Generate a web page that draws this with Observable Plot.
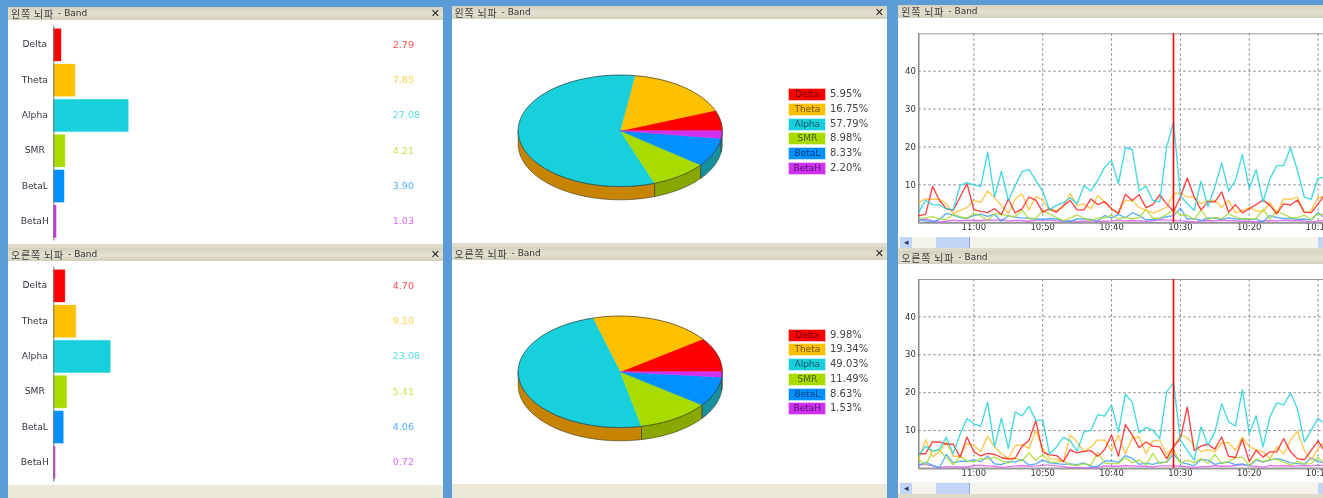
<!DOCTYPE html>
<html><head><meta charset="utf-8">
<script src="https://cdn.jsdelivr.net/npm/d3@7"></script>
<script src="https://cdn.jsdelivr.net/npm/@observablehq/plot@0.6"></script>
<style>
html,body{margin:0;padding:0;width:1323px;height:498px;overflow:hidden;background:#5b9bd7}
#root{position:relative;width:1323px;height:498px;overflow:hidden;background:#5b9bd7;filter:blur(0.4px);font-family:"DejaVu Sans",sans-serif}
.body{position:absolute;background:#fff}
.bar{position:absolute;height:13px;background:linear-gradient(#d4d1bf,#e4e1d0 55%,#d2cfbd);color:#333;font-size:9px;white-space:nowrap;display:flex;align-items:center;padding-left:3px;box-sizing:border-box}
.bar b{font:400 10px/13px "Noto Sans CJK KR";letter-spacing:.8px;margin-right:4px;color:#3a3a3a}
.bar span{line-height:13px}
.bar i{position:absolute;right:3px;top:0;font:700 11px/13px "DejaVu Sans";font-style:normal;color:#222}
.sw{position:absolute;width:36px;height:11px;border:.5px solid rgba(255,255,255,.7);text-align:center;font-size:9px;line-height:11px;color:rgba(0,0,30,.6)}
.pc{position:absolute;font-size:10px;line-height:12px;color:#444}
.sb{position:absolute;height:11px;background:#f5f4ec}
.sb u{position:absolute;top:0;height:11px;background:#c3d4f6;border-right:1px solid #8fa8d8}
.sb em{position:absolute;top:0;left:2px;width:12px;height:11px;background:#c3d4f6;color:#1d3a78;font:700 9px/11px "DejaVu Sans";text-align:center}
</style></head><body><div id="root"></div>
<script>
const bands = ["Delta","Theta","Alpha","SMR","BetaL","BetaH"];
const bandColors = ["#ff0000","#ffc000","#18d0dc","#a8dc00","#0090ff","#d030f0"];
const lineColors = ["#ff2020","#ffbe30","#22d2de","#a8dc30","#3fa0ff","#dc60f0"];
const wallColors = ["#b00000","#c68400","#c68400","#88a800","#16909f","#16909f"];

const leftBand = [2.79,7.85,27.08,4.21,3.90,1.03];
const rightBand = [4.70,9.10,23.08,5.41,4.06,0.72];
const leftBandText = ["2.79","7.85","27.08","4.21","3.90","1.03"];
const rightBandText = ["4.70","9.10","23.08","5.41","4.06","0.72"];
const leftPct = [5.95,16.75,57.79,8.98,8.33,2.20];
const rightPct = [9.98,19.34,49.03,11.49,8.63,1.53];
const leftPctText = ["5.95%","16.75%","57.79%","8.98%","8.33%","2.20%"];
const rightPctText = ["9.98%","19.34%","49.03%","11.49%","8.63%","1.53%"];
const titleLeft = "왼쪽 뇌파", titleRight = "오른쪽 뇌파", titleTail = "- Band";

const leftAlpha = [2.8,5.9,4.8,4.7,3.7,3.4,9.9,10.6,10,9.6,18.6,6.8,13.6,5.9,9.8,13.5,14,11.2,8.3,3.4,4.6,5.3,6.6,5,9.8,8.4,11.2,14.7,16.4,10.3,19.8,19.4,8.4,9.6,5.9,5.5,20,26.6,7.2,5,3.3,11,4.3,9.4,15.8,8.4,11.2,18,9,14,5.5,11.6,15.1,15.1,19.8,13.8,6.8,6.2,11.8,12];
const leftDelta = [1.9,2.2,9.6,5.9,3.7,3.3,6.8,10.3,3.4,3,2.7,3.7,2.2,6.3,2.6,3.7,6.8,6,2.8,3.7,2.8,4.6,5.9,3.4,3.4,6.3,4.8,5.6,3.7,2.5,7.5,5.9,7.4,4,4.8,7.4,5,3,6.8,11.8,6.8,3.4,5.6,5.5,8.1,2.8,4.8,2.6,3.7,4.8,6,4.6,2.4,5,4.7,6,2.8,2.6,5,7.5];
const leftTheta = [5.4,6.3,6.2,6.2,5,2.4,3.3,4,5.9,5.4,8.4,6.6,4.6,2.4,6.3,7.6,3.4,7,5.9,3.3,3.2,4.1,7.7,4.6,5,3.7,7.2,5.4,3.7,2.6,5.9,5.9,4.1,3.3,2.6,3.3,4.1,7.7,7.8,6.8,6.8,5,5.9,5.9,4.1,5.9,2.6,3.2,4.1,3.2,2.8,5.4,2.6,6.3,6.2,6.8,2.6,3.2,6.8,6.8];
const leftSMR = [1.2,1.3,1.7,1,0.8,2.3,1.6,1.2,2.5,1.8,0.6,2.4,2.2,1.8,1.6,3.4,1,1.2,3.2,2.3,1.4,0.6,1.3,2.1,1.2,0.6,1.3,1.3,2,1,1.5,1,1.4,3.6,1.2,1.2,2.2,3.5,2,2,0.8,3.4,0.9,1.4,1.1,2.4,1.5,1,1.1,1,3.6,1,3,2.2,1.4,1.3,2,0.9,2.4,2];
const leftBetaL = [0.9,0.5,0.3,0.8,2.5,2,1.4,1.2,1.9,2.3,1.7,2.2,0.4,1.9,1.5,1.3,1.2,1,0.9,1.1,1,0.5,0.4,1,1,0.9,0.5,1.9,1.3,2.2,1.3,2.6,1.9,0.8,0.8,1.1,1.6,1.9,3.8,1,1.1,0.6,1.2,1.2,0.9,1.3,1,0.9,0.9,0.9,0.3,1.9,1.4,1.1,1.2,0.9,1,0.7,2.7,1.2];
const leftBetaH = [0.7,1,0.5,0.2,0.4,0.7,0.5,0.7,0.6,0.6,0.8,0.7,0.8,0.5,0.6,0.6,0.4,0.7,0.8,0.7,0.5,0.4,0.5,0.3,0.4,0.5,0.3,0.4,0.5,0.7,0.5,0.6,0.5,0.4,0.5,0.8,0.7,0.7,0.5,0.4,0.2,0.5,0.6,0.5,0.7,0.6,0.5,0.4,0.4,0.2,0.5,0.6,0.5,0.7,0.6,0.6,0.5,0.2,0.5,0.6];

const rightAlpha = [3.5,5.9,4.6,5.1,8.2,3.9,9,13.2,11.8,11.1,17.5,5.7,13.3,5.3,14.9,13.9,16.4,12.7,12.7,3.8,5.7,8.2,7.3,4.6,9.6,10.1,14.2,13.8,16.7,9.6,19.6,17.5,9.4,10.8,10.1,7.9,20.2,22.6,7.5,4.8,2.2,11,6.1,9.6,17.1,12.3,11.2,20.8,9.2,13.9,5.7,13.6,17.3,16.8,19.9,15.8,7,10.1,13.2,11.8];
const rightDelta = [3.9,3.9,7,7,6.4,6.4,3,8.3,4.4,3.3,4,3.7,2.9,2.5,2.7,5.9,7.4,12.6,4.3,3.6,3.4,1.8,4.9,4.1,4.5,4.7,3.2,5,8.8,3.2,11.6,8.8,5.5,7,5.9,5.7,2.6,5.7,7.9,16.2,4.8,5.9,6.4,5.1,8.3,3.2,2.9,7.7,1.8,4.8,3,4.4,4.4,7.9,4.4,2.6,2.3,4.8,7.3,4.4];
const rightTheta = [2.6,7.6,3.1,4.4,7,3.2,3.2,6.6,6.1,4.4,8.5,5.7,3.9,2.6,6,6.3,5.3,10.1,5.3,2.6,2.4,1.8,8.8,7,4.4,5.7,7.5,7.5,4.8,8.8,3.8,8.1,8.3,3.9,7.3,7.5,3.8,5.7,8.9,8.1,6.1,4.4,5,4.4,6.8,6.8,4.8,8.2,5.7,5,4.4,2.6,5.7,3.9,7.5,9.8,4.8,2.2,5.3,7];
const rightSMR = [2.3,0.9,4.6,4.8,2.8,1,3.2,2,1.7,2.6,2.5,3,2,1.4,2.7,2,4.1,2.1,3.6,1.8,1.6,2,1,0.8,1.3,0.9,4.2,1.4,1.3,1.3,2.9,1.5,2.3,0.9,4,1.3,1.8,4.9,1.5,2.2,1.5,2.6,1.4,3.7,1.2,1.9,2.8,3,0.8,2.5,1.8,2.4,2.4,1.7,0.9,1.8,1.2,1.3,3,1.2];
const rightBetaL = [0.9,1.6,0.8,0.2,3.7,1.5,1.9,1.9,2.3,1.8,3.3,1.2,1,1.8,1.7,2.4,0.9,1.2,2.2,1.5,1.3,1.1,1.2,1,1.5,0.5,0.6,1.9,2,1.6,3.4,2.7,1.1,1.4,1.1,1.6,1.6,3.8,1.6,1.2,0.7,2.4,2.2,1.1,1.5,1.7,1,1.2,0.7,2.2,1.7,2.2,2.6,2.2,1.5,1.3,1.2,2.8,1.8,1.5];
const rightBetaH = [1,1.1,0.7,0.2,0.5,0.4,0.4,0.4,0.8,0.8,0.7,0.6,0.3,0.5,0.7,0.8,0.6,0.7,0.9,0.9,0.7,0.5,0.2,0.3,0.2,0.2,0.3,0.7,0.6,0.6,0.8,0.7,0.6,0.6,0.4,0.7,0.7,0.7,0.6,0.5,0.2,0.5,0.5,0.8,0.6,0.6,0.8,1,0.7,0.6,0.3,0.8,0.7,0.8,0.6,0.7,0.8,0.7,0.9,0.7];

const yTicks = [10,20,30,40];
const startMinute = 8;       // first sample 11:08, one sample a minute, newest at left
const cursorMinute = -29;    // 10:31
const time = m => new Date(Date.UTC(2000,0,1,11,m));

const root = document.getElementById("root");
function el(cls, css, html){const d=document.createElement("div");d.className=cls;Object.assign(d.style,css);if(html!=null)d.innerHTML=html;root.appendChild(d);return d;}
function px(o){const r={};for(const k in o)r[k]=o[k]+"px";return r;}
function place(svg,left,top){svg.style.position="absolute";svg.style.left=left+"px";svg.style.top=top+"px";svg.style.background="transparent";root.appendChild(svg);}
function panel(x,y,w,h,title,closeBtn){
  el("body",px({left:x,top:y+13,width:w,height:h-13}));
  el("bar",px({left:x,top:y,width:w}),`<b>${title}</b><span>${titleTail}</span>${closeBtn?"<i>✕</i>":""}`);
}
const base = {fontFamily:"'DejaVu Sans',sans-serif",fontSize:"9.5px"};

function barChart(values,labels,pxPerUnit,left,top){
  const rows = bands.map((band,i)=>({band,value:values[i],label:labels[i]}));
  const svg = Plot.plot({
    width:435,height:224,marginLeft:45.3,marginRight:0,marginTop:5.7,marginBottom:3.5,
    style:base,
    x:{domain:[0,389.7/pxPerUnit],axis:null},
    y:{domain:bands,padding:0.085,label:null,round:false},
    color:{domain:bands,range:bandColors},
    marks:[
      Plot.axisY({anchor:"left",tickSize:0,tickPadding:0,textAnchor:"middle",dx:-19,dy:-1,label:null,fill:"#3a3340",fontSize:9.2}),
      Plot.barX(rows,{y:"band",x:"value",fill:"band",stroke:"band",strokeOpacity:.25,strokeWidth:1}),
      Plot.ruleX([0],{stroke:"#777",strokeWidth:1}),
      Plot.text(rows,{y:"band",text:"label",fill:"band",fillOpacity:.72,frameAnchor:"left",textAnchor:"start",dx:339,dy:-0.5,fontSize:9.5})
    ]
  });
  place(svg,left,top);
}

function arcPts(a0,a1){const n=Math.max(2,Math.ceil((a1-a0)/(Math.PI/180)));return d3.range(n+1).map(i=>a0+(a1-a0)*i/n);}
function pieChart(pct,pctText,left,top,legendTop){
  const depth = 13.3/55.7;
  const total = d3.sum(pct);
  let acc=0; const slices=[];
  pct.forEach((p,i)=>{const a0=acc/total*2*Math.PI;acc+=p;const a1=acc/total*2*Math.PI;slices.push({band:bands[i],i,a0,a1});});
  const topPts=[],wallPts=[];
  for(const s of slices){
    const arc=arcPts(s.a0,s.a1);
    topPts.push({band:s.band,c:bandColors[s.i],x:0,y:0});
    for(const a of arc)topPts.push({band:s.band,c:bandColors[s.i],x:Math.cos(a),y:Math.sin(a)});
    topPts.push({band:s.band,c:bandColors[s.i],x:0,y:0});
    const lo=Math.max(s.a0,Math.PI),hi=s.a1;
    if(hi>lo){
      const wa=arcPts(lo,hi);
      const ring=[...wa.map(a=>[Math.cos(a),Math.sin(a)]),...wa.slice().reverse().map(a=>[Math.cos(a),Math.sin(a)-depth])];
      ring.push(ring[0]);
      for(const [x,y] of ring)wallPts.push({band:s.band,c:wallColors[s.i],x,y});
    }
  }
  const svg = Plot.plot({
    width:436,height:224,margin:0,style:base,
    x:{domain:[-1,1],range:[66.7,270.7],axis:null},
    y:{domain:[-1,1],range:[167,55.6],axis:null},
    color:{type:"identity"},
    marks:[
      Plot.line(wallPts,{x:"x",y:"y",z:"band",fill:"c",stroke:"#3a3320",strokeWidth:.6,curve:"linear"}),
      Plot.line(topPts,{x:"x",y:"y",z:"band",fill:"c",stroke:"c",strokeWidth:.5,curve:"linear"}),
      Plot.line(arcPts(0,2*Math.PI).map(a=>({x:Math.cos(a),y:Math.sin(a)})),{x:"x",y:"y",stroke:"#333",strokeWidth:.7,curve:"linear"})
    ]
  });
  place(svg,left,top);
  bands.forEach((b,i)=>{
    const t=legendTop+14.75*i;
    el("sw",Object.assign(px({left:788.3,top:t}),{background:bandColors[i]}),b);
    el("pc",px({left:830,top:t}),pctText[i]);
  });
}

function lineChart(series,left,top,height,marginTop){
  const rows=[];
  series.forEach((vals,k)=>vals.forEach((v,i)=>rows.push({band:bands[k],t:time(startMinute-i),v})));
  const order=[5,4,3,1,0,2].map(k=>bands[k]);
  rows.sort((a,b)=>order.indexOf(a.band)-order.indexOf(b.band));
  const plotH=189;
  const svg = Plot.plot({
    width:454,height,marginLeft:20.3,marginRight:0,marginTop,marginBottom:height-marginTop-plotH,
    style:Object.assign({},base,{fontSize:"9px"}),
    x:{type:"utc",domain:[time(startMinute),time(-55)]},
    y:{domain:[0,49.85]},
    color:{domain:bands,range:lineColors},
    marks:[
      Plot.gridX({ticks:d3.utcMinute.every(10),stroke:"#777",strokeOpacity:.85,strokeDasharray:"2.5,2.5"}),
      Plot.gridY(yTicks,{stroke:"#777",strokeOpacity:.85,strokeDasharray:"2.5,2.5"}),
      Plot.axisX({ticks:d3.utcMinute.every(10),tickFormat:d3.utcFormat("%H:%M"),tickSize:0,tickPadding:1,label:null,fill:"#333",fontSize:8.5}),
      Plot.axisY(yTicks,{tickSize:0,tickPadding:3,label:null,fill:"#333",fontSize:8.5}),
      Plot.frame({stroke:"#999",strokeWidth:1}),
      Plot.ruleX([0],{x:()=>time(startMinute),stroke:"#777",strokeWidth:1}),
      Plot.ruleY([0],{stroke:"#999",strokeWidth:2}),
      Plot.line(rows,{x:"t",y:"v",z:"band",stroke:"band",strokeOpacity:.85,strokeWidth:1.35,curve:"linear"}),
      Plot.ruleX([time(cursorMinute)],{stroke:"#ff0000",strokeWidth:1.6})
    ]
  });
  place(svg,left,top);
}
function scrollbar(x,y,w){
  const s=el("sb",px({left:x,top:y,width:w}));
  s.innerHTML=`<em>◂</em><u style="left:38px;width:33px"></u><u style="left:420px;width:10px"></u>`;
}

// strips under the panels
el("body",Object.assign(px({left:8,top:484,width:435,height:14}),{background:"#ece9d8"}));
el("body",Object.assign(px({left:451.5,top:484,width:435.5,height:14}),{background:"#ece9d8"}));
el("body",Object.assign(px({left:8,top:244,width:435,height:4}),{background:"#dedbca"}));
el("body",Object.assign(px({left:451.5,top:243,width:435.5,height:4}),{background:"#dedbca"}));
el("body",Object.assign(px({left:898.3,top:248,width:430,height:3}),{background:"#dedbca"}));
el("body",Object.assign(px({left:898.3,top:494,width:430,height:4}),{background:"#dedbca"}));

panel(8,7,435,237,titleLeft,true);
panel(8,247.5,435,237,titleRight,true);
panel(451.5,6,435.5,237,titleLeft,true);
panel(451.5,246.7,435.5,237.3,titleRight,true);
panel(898.3,5,430,232,titleLeft,false);
panel(898.3,251,430,231,titleRight,false);
el("body",Object.assign(px({left:898.3,top:237,width:430,height:11}),{background:"#f5f4ec"}));
el("body",Object.assign(px({left:898.3,top:482,width:430,height:12}),{background:"#f5f4ec"}));

barChart(leftBand,leftBandText,2.77,8,20);
barChart(rightBand,rightBandText,2.47,8,260.6);
pieChart(leftPct,leftPctText,451,19,88);
pieChart(rightPct,rightPctText,451,260,328.6);
lineChart([leftDelta,leftTheta,leftAlpha,leftSMR,leftBetaL,leftBetaH],898,19,217,14.3);
lineChart([rightDelta,rightTheta,rightAlpha,rightSMR,rightBetaL,rightBetaH],898,264,217,15);
scrollbar(898.3,237,430);
scrollbar(898.3,482.5,430);
</script></body></html>
